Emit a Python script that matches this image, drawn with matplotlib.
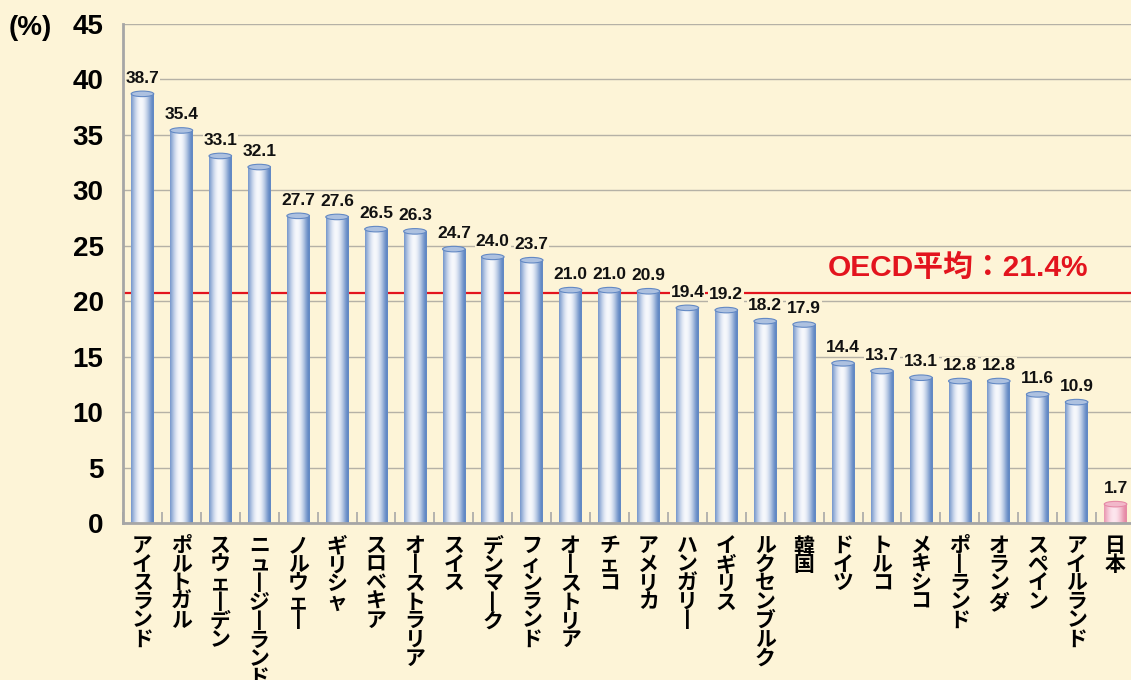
import numpy as np
import matplotlib
matplotlib.use("Agg")
import matplotlib.pyplot as plt
from matplotlib.patches import Ellipse
from matplotlib.colors import to_rgb

plt.rcParams['font.family'] = ['Liberation Sans', 'Noto Sans CJK JP', 'DejaVu Sans']

# データ
countries = ["アイスランド", "ポルトガル", "スウェーデン", "ニュージーランド", "ノルウェー",
             "ギリシャ", "スロベキア", "オーストラリア", "スイス", "デンマーク",
             "フィンランド", "オーストリア", "チェコ", "アメリカ", "ハンガリー",
             "イギリス", "ルクセンブルク", "韓国", "ドイツ", "トルコ",
             "メキシコ", "ポーランド", "オランダ", "スペイン", "アイルランド", "日本"]
values = [38.7, 35.4, 33.1, 32.1, 27.7, 27.6, 26.5, 26.3, 24.7, 24.0,
          23.7, 21.0, 21.0, 20.9, 19.4, 19.2, 18.2, 17.9, 14.4, 13.7,
          13.1, 12.8, 12.8, 11.6, 10.9, 1.7]
highlight = "日本"
oecd_label = "OECD平均：21.4%"
oecd_line = 20.75   # 図中の赤線の位置
y_ticks = [0, 5, 10, 15, 20, 25, 30, 35, 40, 45]

bg = '#fdf4d7'
blue_edge, blue_light = '#6389c4', '#f6f8fc'
pink_edge, pink_light = '#e68aa6', '#fde6ee'

fig = plt.figure(figsize=(11.31, 6.8), dpi=100, facecolor=bg)
ax = fig.add_axes([123/1131, 1-523/680, 1012/1131, (523-24)/680])
ax.set_facecolor(bg)

n = len(countries)
x = np.arange(n)
w = 0.58

def gradient(edge, light, k=64):
    e = np.array(to_rgb(edge)); l = np.array(to_rgb(light))
    t = np.linspace(-1, 1, k)
    f = np.cos(np.pi / 2 * (t + 0.12).clip(-1, 1)) ** 1.2
    return (e[None, :] + (l - e)[None, :] * f[:, None])[None, :, :]

cap_h = 0.5
for xi, v, name in zip(x, values, countries):
    if name == highlight:
        edge, light = pink_edge, pink_light
    else:
        edge, light = blue_edge, blue_light
    ax.imshow(gradient(edge, light), extent=[xi - w/2, xi + w/2, 0, v], aspect='auto',
              zorder=3, interpolation='bilinear')
    cap_color = np.array(to_rgb(light)) * 0.5 + np.array(to_rgb(edge)) * 0.5
    ax.add_patch(Ellipse((xi, v), w, cap_h, facecolor=cap_color,
                         edgecolor=edge, lw=0.8, zorder=4))
    ax.annotate(f"{v:.1f}", (xi, v), xytext=(0, 6), textcoords='offset points',
                ha='center', va='bottom', fontsize=12.5, fontweight='bold', color='#111111',
                zorder=6, bbox=dict(boxstyle='square,pad=0.05', fc=bg, ec='none'))

ax.axhline(oecd_line, color='#e3141e', lw=1.6, zorder=2)
ax.text(0.825, oecd_line + 1.0, oecd_label, transform=ax.get_yaxis_transform(),
        ha='center', va='bottom', fontsize=21.5, fontweight='bold', color='#e3141e',
        zorder=6, bbox=dict(boxstyle='square,pad=0.1', fc=bg, ec='none'))

ax.set_xlim(-0.5, n - 0.5)
ax.set_ylim(0, 45)
ax.set_yticks(y_ticks)
ax.set_yticklabels([str(t) for t in y_ticks], fontsize=20, fontweight='bold')
ax.tick_params(axis='y', length=0, pad=14)
ax.grid(axis='y', color='#b5b1a6', lw=1.0, zorder=1)
ax.set_axisbelow(True)

ax.set_xticks(x)
labels = ["\n".join(c.replace("ー", "丨") for c in name) for name in countries]
ax.set_xticklabels(labels, fontsize=15, fontweight='bold', linespacing=0.98,
                   va='top')
ax.tick_params(axis='x', length=0, pad=10)
ax.set_xticks(np.arange(n + 1) - 0.5, minor=True)
ax.tick_params(axis='x', which='minor', direction='in', length=8, color='#a8a8a8', width=1.2)

for s in ['top', 'right']:
    ax.spines[s].set_visible(False)
for s in ['left', 'bottom']:
    ax.spines[s].set_color('#a6a6a6')
    ax.spines[s].set_linewidth(2)
    ax.spines[s].set_zorder(5)

fig.text(9/1131, 1-28/680, "(%)", fontsize=20, fontweight='bold', va='center', ha='left')

fig.savefig("out.png", dpi=100, facecolor=bg)
